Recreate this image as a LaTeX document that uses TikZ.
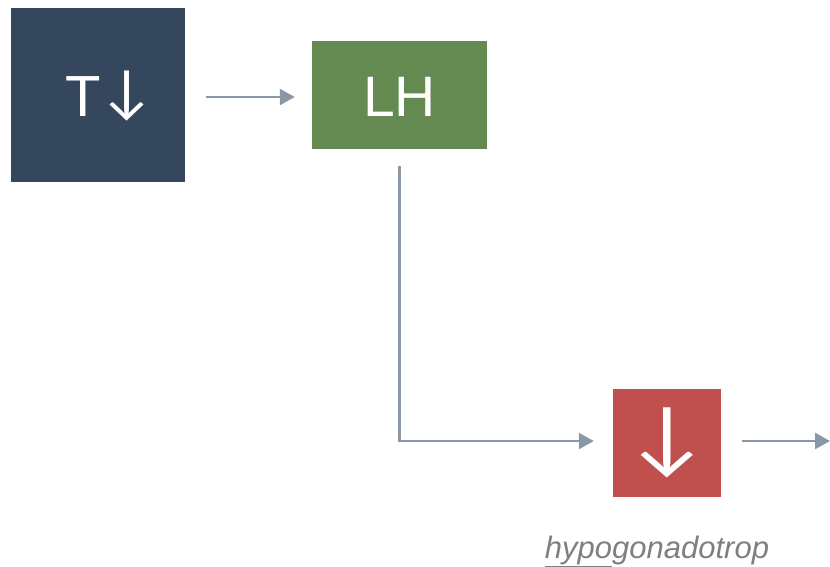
\documentclass[tikz,border=0pt]{standalone}
\usepackage{fontspec}
\setmainfont{Liberation Sans}
\newfontfamily\arrowfont[FakeStretch=1.15]{Carlito}
\newfontfamily\narrowarrowfont[FakeStretch=1.05]{Carlito}
\usetikzlibrary{arrows.meta}
\definecolor{navy}{HTML}{34475D}
\definecolor{leaf}{HTML}{648A52}
\definecolor{brick}{HTML}{C0504D}
\definecolor{wire}{HTML}{8A97A5}
\definecolor{note}{HTML}{7F7F7F}
\begin{document}
\begin{tikzpicture}[x=1pt,y=-1pt,
  box/.style={rectangle, draw=none, text=white, inner sep=0pt, anchor=center},
  link/.style={draw=wire, line width=2.5pt, -{Triangle[length=15pt,width=16pt]}}]
\useasboundingbox (0,0) rectangle (830,566);
% boxes
\node[box, fill=navy, minimum width=174pt, minimum height=174pt,
      text height=43pt, text depth=0pt,
      font=\fontsize{58}{60}\selectfont] (T) at (98,95)
      {\hspace*{25pt}T\hspace{-3pt}\raisebox{4.7pt}{\narrowarrowfont\fontsize{60}{62}\selectfont ↓}};
\node[box, fill=leaf, minimum width=175pt, minimum height=108pt,
      text height=43pt, text depth=0pt,
      font=\fontsize{57}{60}\selectfont] (LH) at (399.5,95) {LH};
\node[box, fill=brick, minimum width=108pt, minimum height=108pt,
      font=\arrowfont\fontsize{84}{86}\selectfont] (R) at (667,443) {↓};
\coordinate (out) at (830,441);
% connectors
\draw[link, shorten <=21pt, shorten >=17pt] ([yshift=-2pt]T.east) -- ([yshift=-2pt]LH.west);
\draw[link, shorten <=17pt, shorten >=19pt] (LH.south) |- ([yshift=2pt]R.west);
\draw[link, shorten <=21pt] ([yshift=2pt]R.east) -- (out);
% caption
\node[text=note, font=\fontsize{31}{36}\selectfont\itshape, anchor=base, inner sep=0pt]
  (cap) at (657,558) {\underline{hypo}gonadotrop};
\end{tikzpicture}
\end{document}
